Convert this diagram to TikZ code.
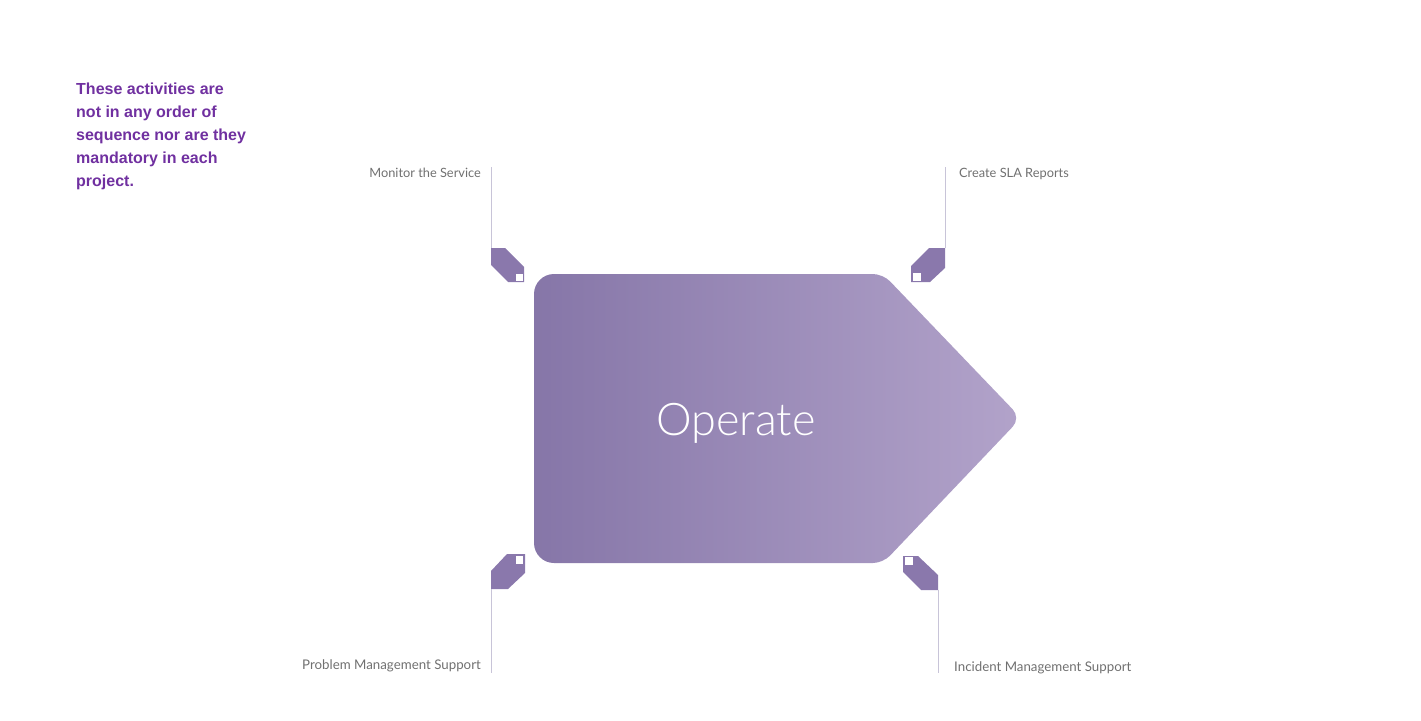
\documentclass[tikz,border=0pt]{standalone}
\usepackage{fontspec}
\setmainfont{Liberation Sans}
\newfontfamily\labelfont{Lato}
\newfontfamily\opfont{Lato Light}
\definecolor{notepurple}{RGB}{112,48,160}
\definecolor{tagpurple}{RGB}{138,120,172}
\definecolor{linegray}{RGB}{200,196,216}
\definecolor{labelgray}{RGB}{112,112,112}
\definecolor{shapeleft}{RGB}{134,118,168}
\definecolor{shaperight}{RGB}{178,163,202}
\tikzset{
  tagshape/.style={fill=tagpurple, draw=none},
  tagdot/.style={fill=white, draw=none},
  leader/.style={draw=linegray, line width=1pt},
  steplabel/.style={font=\labelfont\fontsize{12.8}{16}\selectfont, text=labelgray, inner sep=0pt},
  longlabel/.style={steplabel, font=\labelfont\fontsize{13.3}{16}\selectfont},
}
\begin{document}
\begin{tikzpicture}[x=1pt,y=-1pt]
\useasboundingbox (0,0) rectangle (1421,720);

% note
\node[anchor=north west, inner sep=0pt, align=left, text=notepurple,
      font=\fontsize{16}{23}\selectfont\bfseries] (note) at (76,83)
  {These activities are\\not in any order of\\sequence nor are they\\mandatory in each\\project.};

% main shape
\path[left color=shapeleft, right color=shaperight]
  (534,418) [rounded corners=20pt] -- (534,274) [rounded corners=10pt] -- (883,274)
  [rounded corners=12pt] -- (1021,418) [rounded corners=10pt] -- (883,563)
  [rounded corners=20pt] -- (534,563) [sharp corners] -- cycle;
\node[anchor=base, inner sep=0pt, text=white, font=\opfont\fontsize{45}{45}\selectfont] (op) at (736,435) {Operate};

% tags
\fill[tagshape] (491,248) -- (505,248) -- (524,267) -- (524,282) -- (508,282) -- (491,265) -- cycle;
\fill[tagdot] (516,274) rectangle (523,281);
\fill[tagshape] (945,248) -- (929,248) -- (911,266) -- (911,282) -- (930,282) -- (945,268) -- cycle;
\fill[tagdot] (913,273) rectangle (921,281);
\fill[tagshape] (507,554) -- (525,554) -- (525,573) -- (508,589) -- (491,589) -- (491,571) -- cycle;
\fill[tagdot] (516,556) rectangle (523,564);
\fill[tagshape] (903,556) -- (918,556) -- (938,575) -- (938,590) -- (921,590) -- (903,572) -- cycle;
\fill[tagdot] (905,557) rectangle (913,565);

% anchor coordinates
\coordinate (t1) at (491,248);
\coordinate (e1) at (491,167);
\coordinate (t2) at (945,248);
\coordinate (e2) at (945,167);
\coordinate (t3) at (491,589);
\coordinate (e3) at (491,673);
\coordinate (t4) at (938,590);
\coordinate (e4) at (938,673);
\draw[leader] (e1) -- (t1);
\draw[leader] (e2) -- (t2);
\draw[leader] (t3) -- (e3);
\draw[leader] (t4) -- (e4);

% labels
\node[steplabel, anchor=base east] (l1) at (481,177) {Monitor the Service};
\node[steplabel, anchor=base west] (l2) at (959,177) {Create SLA Reports};
\node[longlabel, anchor=base east] (l3) at (481,669) {Problem Management Support};
\node[longlabel, anchor=base west] (l4) at (954,671) {Incident Management Support};
\end{tikzpicture}
\end{document}
